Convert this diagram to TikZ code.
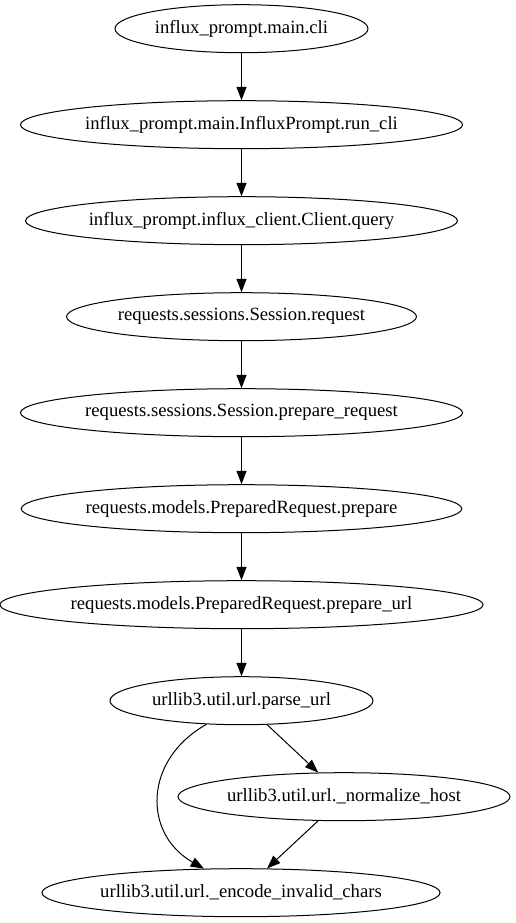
\documentclass[tikz,border=0pt]{standalone}
\usepackage{fontspec}
\setmainfont{Liberation Serif}
\usetikzlibrary{shapes.geometric,arrows.meta}

\tikzset{   fnode/.style={draw,ellipse,inner sep=0pt,minimum height=48pt,line width=1pt,font=\fontsize{18.67}{22}\selectfont},
            call/.style={-{Triangle[length=13.3pt,width=10pt]},line width=1pt},
}

\begin{document}
\begin{tikzpicture}[x=1pt,y=-1pt]
    \useasboundingbox (0,0) rectangle (516,923);

    \node[fnode,minimum width=253pt] (cli) at (241.5,28.7) {influx\_prompt.main.cli}; % call chain
    \node[fnode,minimum width=436pt] (runcli) at (241.5,124.7) {influx\_prompt.main.InfluxPrompt.run\_cli};
    \node[fnode,minimum width=427pt] (query) at (241.5,220.7) {influx\_prompt.influx\_client.Client.query};
    \node[fnode,minimum width=350pt] (request) at (241.5,316.7) {requests.sessions.Session.request};
    \node[fnode,minimum width=437pt] (preprequest) at (241.5,412.7) {requests.sessions.Session.prepare\_request};
    \node[fnode,minimum width=434pt] (prepare) at (241.5,508.7) {requests.models.PreparedRequest.prepare};
    \node[fnode,minimum width=475pt] (prepareurl) at (241.5,604.7) {requests.models.PreparedRequest.prepare\_url};
    \node[fnode,minimum width=263pt] (parseurl) at (241.5,700.7) {urllib3.util.url.parse\_url};
    \node[fnode,minimum width=332pt] (normhost) at (344,796.7) {urllib3.util.url.\_normalize\_host};
    \node[fnode,minimum width=396pt] (encode) at (241,892.7) {urllib3.util.url.\_encode\_invalid\_chars};

    \draw[call] (cli) -- (runcli); % edges
    \draw[call] (runcli) -- (query);
    \draw[call] (query) -- (request);
    \draw[call] (request) -- (preprequest);
    \draw[call] (preprequest) -- (prepare);
    \draw[call] (prepare) -- (prepareurl);
    \draw[call] (prepareurl) -- (parseurl);
    \draw[call] (parseurl) -- (normhost);
    \draw[call] (normhost) -- (encode);
    \draw[call] (parseurl.214) .. controls (143,760) and (143,834) .. (encode.147);
\end{tikzpicture}
\end{document}
